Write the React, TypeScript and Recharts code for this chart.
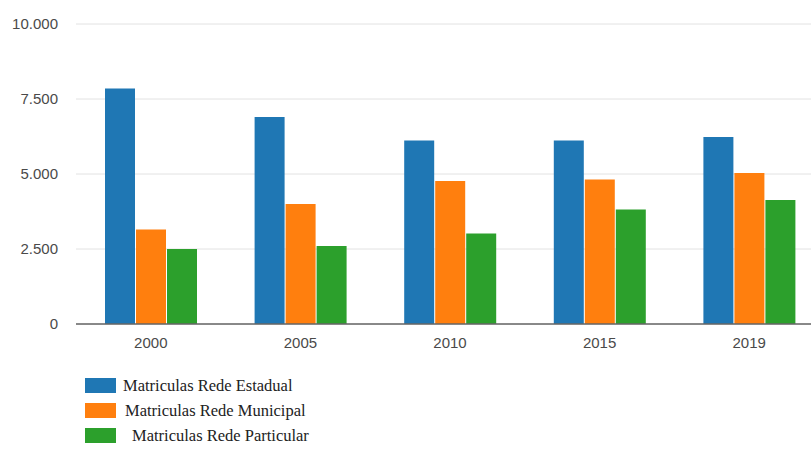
import React from 'react';
import { BarChart, Bar, XAxis, YAxis, CartesianGrid } from 'recharts';

const years = ['2000', '2005', '2010', '2015', '2019'];
const estadual = [7850, 6900, 6120, 6120, 6230];
const municipal = [3150, 4000, 4770, 4820, 5030];
const particular = [2500, 2600, 3020, 3820, 4130];
const yTicks = [0, 2500, 5000, 7500, 10000];

const seriesNames = ['Matriculas Rede Estadual', 'Matriculas Rede Municipal', 'Matriculas Rede Particular'];
const seriesKeys = ['estadual', 'municipal', 'particular'];
const colors = ['#1f77b4', '#ff7f0e', '#2ca02c'];

const data = years.map((year, i) => ({
  year,
  estadual: estadual[i],
  municipal: municipal[i],
  particular: particular[i],
}));

const fmt = (v: number) => v.toLocaleString('de-DE');

const legendTop = [378, 403, 428];
const legendTextLeft = [123, 125, 132];

const App: React.FC = () => {
  return (
    <div style={{ position: 'fixed', left: 0, top: 0, width: 811, height: 450, overflow: 'hidden', background: '#fff' }}>
      <BarChart
        width={824}
        height={450}
        data={data}
        margin={{ top: 24, right: 0, left: 0, bottom: 96 }}
        barCategoryGap={29}
        barGap={1}
      >
        <CartesianGrid vertical={false} stroke="#e2e2e2" />
        <XAxis
          dataKey="year"
          height={30}
          tickLine={false}
          tickSize={0}
          tickMargin={13}
          axisLine={{ stroke: '#666', strokeWidth: 1.5 }}
          tick={{ fill: '#4a4a4a', fontSize: 15, fontFamily: 'Liberation Sans, Arial, sans-serif' }}
        />
        <YAxis
          width={76}
          domain={[0, 10000]}
          ticks={yTicks}
          tickFormatter={fmt}
          axisLine={false}
          tickLine={false}
          tickSize={0}
          tickMargin={18}
          tick={{ fill: '#4a4a4a', fontSize: 15, fontFamily: 'Liberation Sans, Arial, sans-serif' }}
        />
        {seriesKeys.map((k, i) => (
          <Bar key={k} dataKey={k} name={seriesNames[i]} fill={colors[i]} isAnimationActive={false} />
        ))}
      </BarChart>
      {seriesNames.map((name, i) => (
        <React.Fragment key={name}>
          <div
            style={{ position: 'absolute', left: 85, top: legendTop[i], width: 31, height: 15, background: colors[i] }}
          />
          <div
            style={{
              position: 'absolute',
              left: legendTextLeft[i],
              top: legendTop[i] - 2,
              fontFamily: 'Liberation Serif, Times New Roman, serif',
              fontSize: 16.5,
              lineHeight: '19px',
              color: '#222',
              whiteSpace: 'nowrap',
            }}
          >
            {name}
          </div>
        </React.Fragment>
      ))}
    </div>
  );
};

export default App;
